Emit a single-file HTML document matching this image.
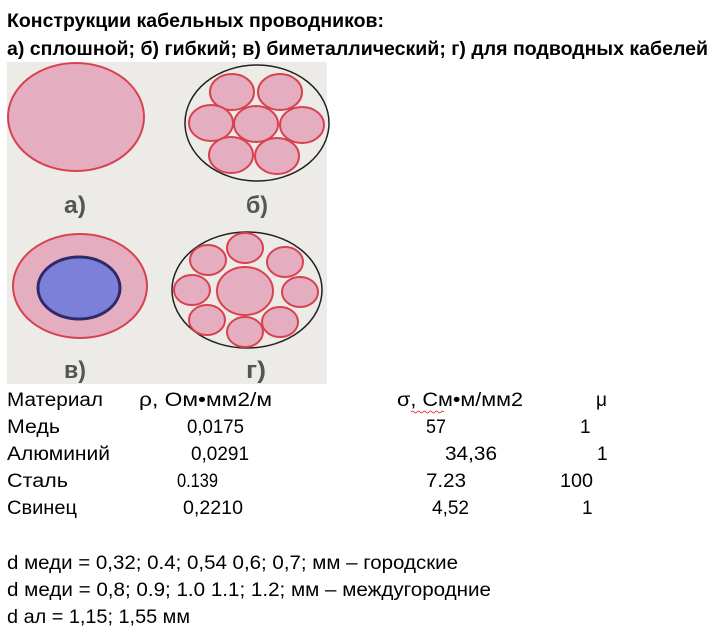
<!DOCTYPE html>
<html><head><meta charset="utf-8"><style>
html,body{margin:0;padding:0;background:#fff;}
svg{display:block;}
text{font-family:"Liberation Sans","Noto Sans CJK SC",sans-serif;fill:#000;}
.t{font-size:19px;}
.b{font-weight:bold;font-size:19px;}
.lbl{font-size:24px;fill:#555;font-weight:bold;}
.p{fill:#e5adc0;stroke:#d8424f;stroke-width:2;}
</style></head><body>
<svg width="714" height="631" viewBox="0 0 714 631">
<text class="b" x="7" y="27" textLength="377" lengthAdjust="spacingAndGlyphs">Конструкции кабельных проводников:</text>
<text class="b" x="7" y="55" textLength="701" lengthAdjust="spacingAndGlyphs">а) сплошной; б) гибкий; в) биметаллический; г) для подводных кабелей</text>

<g>
<rect x="7" y="62" width="320" height="322" fill="#ecebe8"/>
<ellipse class="p" cx="76" cy="117" rx="68" ry="54"/>
<g>
<ellipse cx="257" cy="123" rx="72" ry="58" fill="#ecebe8" stroke="#222" stroke-width="1.5"/>
<ellipse class="p" cx="232" cy="92" rx="22" ry="18"/>
<ellipse class="p" cx="280" cy="92" rx="22" ry="18"/>
<ellipse class="p" cx="211" cy="123" rx="22" ry="18"/>
<ellipse class="p" cx="256" cy="124" rx="22" ry="18"/>
<ellipse class="p" cx="302" cy="125" rx="22" ry="18"/>
<ellipse class="p" cx="231" cy="155" rx="22" ry="18"/>
<ellipse class="p" cx="277" cy="156" rx="22" ry="18"/>
</g>
<g>
<ellipse class="p" cx="80" cy="286" rx="67" ry="52"/>
<ellipse cx="79" cy="288" rx="41" ry="31" fill="#7c80d8" stroke="#2e2a6a" stroke-width="3"/>
</g>
<g>
<ellipse cx="247" cy="290" rx="75" ry="58" fill="#ecebe8" stroke="#222" stroke-width="1.5"/>
<ellipse class="p" cx="245" cy="291" rx="28" ry="24"/>
<ellipse class="p" cx="245" cy="248" rx="18" ry="15"/>
<ellipse class="p" cx="208" cy="260" rx="18" ry="15"/>
<ellipse class="p" cx="285" cy="262" rx="18" ry="15"/>
<ellipse class="p" cx="192" cy="290" rx="18" ry="15"/>
<ellipse class="p" cx="300" cy="292" rx="18" ry="15"/>
<ellipse class="p" cx="207" cy="320" rx="18" ry="15"/>
<ellipse class="p" cx="280" cy="322" rx="18" ry="15"/>
<ellipse class="p" cx="245" cy="332" rx="18" ry="15"/>
</g>
<text class="lbl" x="64" y="213" textLength="22" lengthAdjust="spacingAndGlyphs">а)</text>
<text class="lbl" x="246" y="213" textLength="22" lengthAdjust="spacingAndGlyphs">б)</text>
<text class="lbl" x="64" y="378" textLength="22" lengthAdjust="spacingAndGlyphs">в)</text>
<text class="lbl" x="246" y="378" textLength="20" lengthAdjust="spacingAndGlyphs">г)</text>
</g>

<g>
<text class="t" x="7" y="406" textLength="96" lengthAdjust="spacingAndGlyphs">Материал</text>
<text class="t" x="139" y="406" textLength="133" lengthAdjust="spacingAndGlyphs">ρ, Ом•мм2/м</text>
<text class="t" x="397" y="406" textLength="126" lengthAdjust="spacingAndGlyphs">σ, См•м/мм2</text>
<path d="M411 412 q1.5 -2 3 0 t3 0 t3 0 t3 0 t3 0 t3 0 t3 0 t3 0 t3 0 t3 0 t3 0" fill="none" stroke="#d22" stroke-width="0.8"/>
<text class="t" x="596" y="406">μ</text>

<text class="t" x="7" y="433" textLength="53" lengthAdjust="spacingAndGlyphs">Медь</text>
<text class="t" x="187" y="433" textLength="57" lengthAdjust="spacingAndGlyphs">0,0175</text>
<text class="t" x="426" y="433" textLength="20" lengthAdjust="spacingAndGlyphs">57</text>
<text class="t" x="580" y="433">1</text>

<text class="t" x="7" y="460" textLength="103" lengthAdjust="spacingAndGlyphs">Алюминий</text>
<text class="t" x="191" y="460" textLength="58" lengthAdjust="spacingAndGlyphs">0,0291</text>
<text class="t" x="445" y="460" textLength="52" lengthAdjust="spacingAndGlyphs">34,36</text>
<text class="t" x="597" y="460">1</text>

<text class="t" x="7" y="487" textLength="61" lengthAdjust="spacingAndGlyphs">Сталь</text>
<text class="t" x="177" y="487" textLength="41" lengthAdjust="spacingAndGlyphs">0.139</text>
<text class="t" x="426" y="487" textLength="40" lengthAdjust="spacingAndGlyphs">7.23</text>
<text class="t" x="560" y="487" textLength="33" lengthAdjust="spacingAndGlyphs">100</text>

<text class="t" x="7" y="514" textLength="70" lengthAdjust="spacingAndGlyphs">Свинец</text>
<text class="t" x="183" y="514" textLength="60" lengthAdjust="spacingAndGlyphs">0,2210</text>
<text class="t" x="432" y="514" textLength="37" lengthAdjust="spacingAndGlyphs">4,52</text>
<text class="t" x="582" y="514">1</text>
</g>

<text class="t" x="7" y="569" textLength="451" lengthAdjust="spacingAndGlyphs">d меди = 0,32; 0.4; 0,54 0,6; 0,7; мм – городские</text>
<text class="t" x="7" y="596" textLength="484" lengthAdjust="spacingAndGlyphs">d меди = 0,8; 0.9; 1.0 1.1; 1.2; мм – междугородние</text>
<text class="t" x="7" y="623" textLength="183" lengthAdjust="spacingAndGlyphs">d ал = 1,15; 1,55 мм</text>
</svg>
</body></html>
